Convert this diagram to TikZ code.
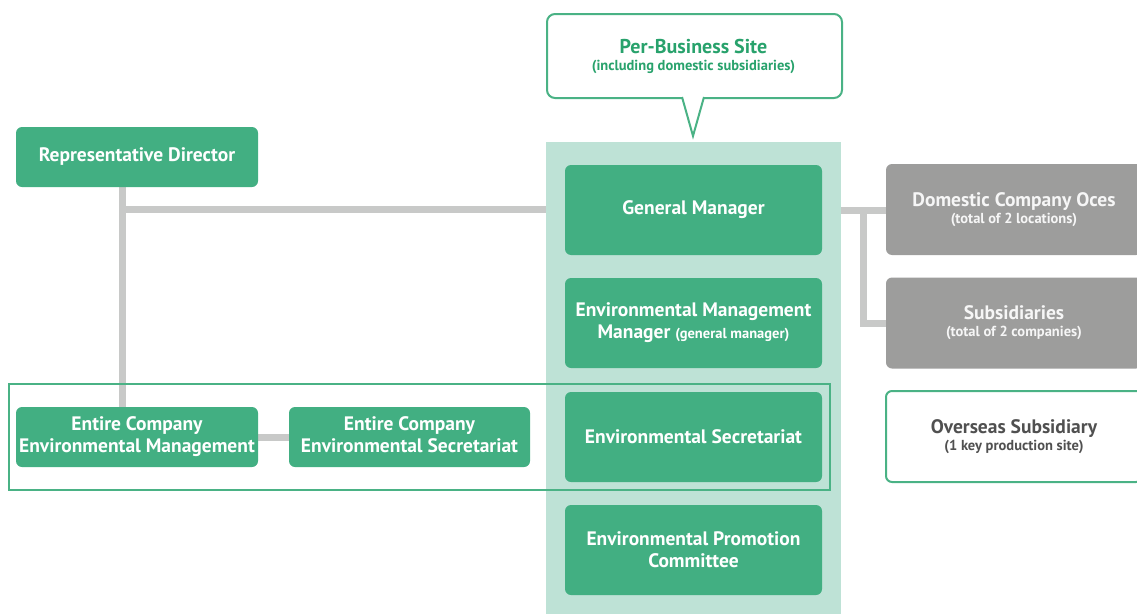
\documentclass[tikz,border=0pt]{standalone}
\usepackage{fontspec}
\setmainfont{PT Sans}
\usetikzlibrary{backgrounds}
\definecolor{boxgreen}{RGB}{66,175,130}
\definecolor{colgreen}{RGB}{190,226,214}
\definecolor{linegray}{RGB}{200,201,200}
\definecolor{boxgray}{RGB}{157,157,156}
\definecolor{graytext}{RGB}{246,246,246}
\definecolor{darktext}{RGB}{80,80,80}
\definecolor{titlegreen}{RGB}{40,162,108}
\definecolor{framegreen}{RGB}{74,178,133}
\newcommand\smalltxt{\fontsize{14.5}{16}\selectfont}
\tikzset{
  basebox/.style={rounded corners=6, align=center, inner sep=0pt,
    font=\bfseries\fontsize{19.5}{22}\selectfont},
  gbox/.style={basebox, fill=boxgreen, text=white},
  colbox/.style={minimum width=257, minimum height=90},
  graybox/.style={basebox, fill=boxgray, text=graytext, minimum width=256, minimum height=91},
  whitebox/.style={basebox, fill=white, draw=framegreen, line width=2, text=darktext, minimum width=256, minimum height=91},
  conn/.style={draw=linegray, line width=7},
}
\begin{document}
\begin{tikzpicture}[x=1pt,y=-1pt]
\useasboundingbox (0,0) rectangle (1137,613);
\clip (0,0) rectangle (1137,613);
% light column
\node[fill=colgreen, minimum width=295, minimum height=480, inner sep=0, anchor=north west] (col) at (546,142) {};
% callout
\node[draw=framegreen, line width=2, fill=white, rounded corners=8, minimum width=295, minimum height=84, inner sep=0, anchor=north west] (callbox) at (546,13) {};
\fill[white] (682,95) -- (704,95) -- (693,136) -- cycle;
\draw[framegreen, line width=2, line join=miter] (682,97) -- (693,136) -- (704,97);
\node[font=\bfseries\fontsize{20}{22}\selectfont, text=titlegreen, align=center, inner sep=0] (site) at (693.5,56) {Per-Business Site\\[-5pt]{\smalltxt (including domestic subsidiaries)}};
% frame
\node[draw=framegreen, line width=2, minimum width=821, minimum height=106, inner sep=0, anchor=north west] (frame) at (8,383) {};
% boxes
\node[gbox, minimum width=242, minimum height=60] (rep) at (137,157) {Representative Director};
\node[gbox, minimum width=242, minimum height=60] (ecem) at (137,437) {Entire Company\\Environmental Management};
\node[gbox, minimum width=241, minimum height=60] (eces) at (409.5,437) {Entire Company\\Environmental Secretariat\vphantom{g}};
\node[gbox, colbox] (gm) at (693.5,210) {General Manager};
\node[gbox, colbox] (emm) at (693.5,323) {Environmental Management\\Manager {\smalltxt (general manager)}};
\node[gbox, colbox] (es) at (693.5,437) {Environmental Secretariat};
\node[gbox, colbox] (epc) at (693.5,550) {Environmental Promotion\\Committee};
\node[graybox] (dom) at (1014,209.5) {Domestic Company Oces\\[-5pt]{\smalltxt (total of 2 locations)}};
\node[graybox] (sub) at (1014,323) {Subsidiaries\\[-5pt]{\smalltxt (total of 2 companies)}};
\node[whitebox] (ovs) at (1014,436.5) {Overseas Subsidiary\\[-5pt]{\smalltxt (1 key production site)}};
% connectors
\coordinate (trunk) at (122,209.5);
\coordinate (branch) at (863,210);
\begin{scope}[on background layer]
\draw[conn] (rep.south -| trunk) -- (ecem.north -| trunk);
\draw[conn] (trunk) -- (trunk -| col.west);
\draw[conn] (ecem.east) -- (eces.west);
\draw[conn] (col.east |- branch) -- (branch -| dom.west);
\draw[conn] (branch) |- (sub.west);
\end{scope}
\end{tikzpicture}
\end{document}
